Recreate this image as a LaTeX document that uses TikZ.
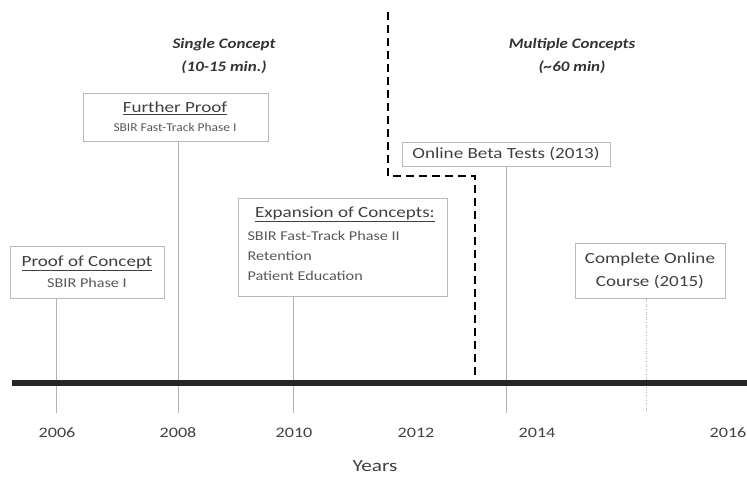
\documentclass[tikz,border=0pt]{standalone}
\usepackage{fontspec}
\setmainfont{Carlito}
\newfontfamily\wfont[FakeStretch=1.23]{Carlito}
\newfontfamily\ifont[FakeStretch=1.2]{Carlito}
\newfontfamily\nfont[FakeStretch=1.12]{Carlito}
\newfontfamily\efont[FakeStretch=1.17]{Carlito}
\newfontfamily\yfont[FakeStretch=1.25]{Carlito}
\begin{document}
\begin{tikzpicture}[x=1pt,y=-1pt,
  evbox/.style={draw=gray!55, line width=0.6pt, fill=white, inner sep=0pt, anchor=north west},
  ttl/.style={font=\wfont\fontsize{15.5}{23}\selectfont, text=black!75},
  sub/.style={font=\ifont\fontsize{13.5}{15}\selectfont, text=black!65},
  nsub/.style={font=\nfont\fontsize{12}{13}\selectfont, text=black!65},
  tick/.style={draw=gray!60, line width=0.6pt},
  yr/.style={font=\yfont\fontsize{14.5}{16}\selectfont, text=black!75},
  era/.style={font=\efont\fontsize{14.5}{23}\selectfont\bfseries\itshape, text=black!80, align=center}]
\useasboundingbox (0,0) rectangle (747,483);
% era labels
\node[era] (single) at (224,56) {Single Concept\\(10-15 min.)};
\node[era] (multi) at (572,56) {Multiple Concepts\\(\textasciitilde 60 min)};
% boxes
\node[evbox, minimum width=154pt, minimum height=52pt] (proof) at (10,246) {};
\node[ttl] (proofT) at (87,263) {\underline{Proof of Concept}};
\node[sub] (proofS) at (87,283) {SBIR Phase I};
\node[evbox, minimum width=185pt, minimum height=48pt] (further) at (83,93) {};
\node[ttl] (furtherT) at (175,108) {\underline{Further Proof}};
\node[nsub] (furtherS) at (175,127) {SBIR Fast-Track Phase I};
\node[evbox, minimum width=209pt, minimum height=98pt] (expan) at (238,198) {};
\node[ttl] (expanT) at (345,214) {\underline{Expansion of Concepts:}};
\node[sub, anchor=west] (expanA) at (244,236) {SBIR Fast-Track Phase II};
\node[sub, anchor=west] (expanB) at (244,256) {Retention};
\node[sub, anchor=west] (expanC) at (244,276) {Patient Education};
\node[evbox, minimum width=208pt, minimum height=24pt] (beta) at (402,142) {};
\node[ttl] (betaT) at (506,154) {Online Beta Tests (2013)};
\node[evbox, minimum width=150pt, minimum height=55pt] (compl) at (575,243) {};
\node[ttl, align=center] (complT) at (650,271) {Complete Online\\Course (2015)};
% tick ends
\coordinate (e06) at (56,413);
\coordinate (e08) at (178,413);
\coordinate (e10) at (293,413);
\coordinate (e13) at (506,413);
\coordinate (e15) at (646,413);
\draw[tick] (proof.south -| e06) -- (e06);
\draw[tick] (further.south -| e08) -- (e08);
\draw[tick] (expan.south -| e10) -- (e10);
\draw[tick] (beta.south -| e13) -- (e13);
\draw[tick, dotted] (compl.south -| e15) -- (e15);
% dashed divider
\coordinate (d1) at (388,12);
\coordinate (d2) at (388,176);
\coordinate (d3) at (475,176);
\coordinate (d4) at (475,383);
\draw[line width=1.8pt, dash pattern=on 8pt off 5pt] (d1) -- (d2) -- (d3) -- (d4);
% timeline
\coordinate (t0) at (12,383);
\coordinate (t1) at (747,383);
\draw[line width=6pt, black!85] (t0) -- (t1);
% years
\node[yr] (y06) at (57,433) {2006};
\node[yr] (y08) at (178,433) {2008};
\node[yr] (y10) at (294,433) {2010};
\node[yr] (y12) at (416,433) {2012};
\node[yr] (y14) at (537,433) {2014};
\node[yr] (y16) at (728,433) {2016};
\node[font=\yfont\fontsize{17}{19}\selectfont, text=black!75] (years) at (375,466) {Years};
\end{tikzpicture}
\end{document}
